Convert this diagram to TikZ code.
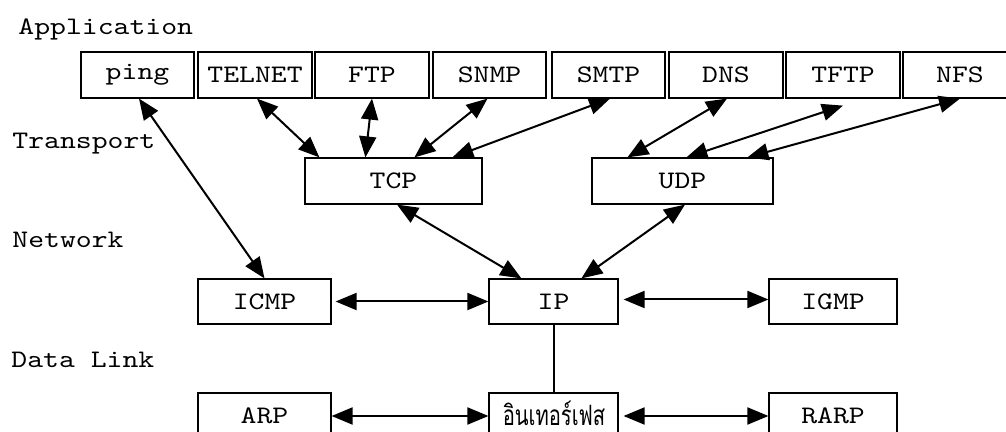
\documentclass[tikz,border=0pt]{standalone}
\usepackage{fontspec}
\usetikzlibrary{arrows.meta,calc}
\newfontfamily\typewriter{lmmono10-regular.otf}[FakeStretch=1.2]
\newfontfamily\thaifont[Script=Thai,FakeStretch=0.72]{Loma}
\tikzset{
  proto/.style={draw, line width=0.6pt, inner sep=0pt, minimum height=23pt,
    font=\typewriter\fontsize{12.6}{14}\selectfont},
  layer/.style={anchor=base west, inner sep=0pt,
    font=\typewriter\fontsize{12.6}{14}\selectfont},
  link/.style={line width=1pt, {Triangle[length=10.5pt,width=8.5pt]}-{Triangle[length=10.5pt,width=8.5pt]}},
  plain/.style={line width=1pt}
}
\begin{document}
\begin{tikzpicture}[x=0.5pt,y=-0.5pt]
\useasboundingbox (0,0) rectangle (1006,432);
\clip (0,0) rectangle (1006,432);

% layer names
\node[layer] (lapp) at (18,35) {Application};
\node[layer] (ltra) at (12,149) {Transport};
\node[layer] (lnet) at (12,248) {Network};
\node[layer] (llnk) at (11,368) {Data Link};

% application protocols
\node[proto, minimum width=56.5pt] (ping)   at (137.5,75) {ping};
\node[proto, minimum width=57pt]   (telnet) at (255,75)   {TELNET};
\node[proto, minimum width=57pt]   (ftp)    at (372,75)   {FTP};
\node[proto, minimum width=56.5pt] (snmp)   at (489.5,75) {SNMP};
\node[proto, minimum width=56.5pt] (smtp)   at (608.5,75) {SMTP};
\node[proto, minimum width=57pt]   (dns)    at (726,75)   {DNS};
\node[proto, minimum width=57pt]   (tftp)   at (843,75)   {TFTP};
\node[proto, minimum width=57pt]   (nfs)    at (960,75)   {NFS};

% transport
\node[proto, minimum width=88.5pt] (tcp) at (393.5,181) {TCP};
\node[proto, minimum width=90.5pt] (udp) at (682.5,181) {UDP};

% network
\node[proto, minimum width=66.5pt, minimum height=22.5pt] (icmp) at (264.5,301.5) {ICMP};
\node[proto, minimum width=64.5pt, minimum height=22.5pt] (ip)   at (553.5,301.5) {IP};
\node[proto, minimum width=64pt,   minimum height=22.5pt] (igmp) at (833,301.5)   {IGMP};

% data link
\node[proto, minimum width=66.5pt] (arp)  at (264.5,416) {ARP};
\node[proto, minimum width=64.5pt] (iface) at (553.5,416) {};
\node[font=\thaifont\fontsize{14}{16}\selectfont, inner sep=0pt, text depth=0pt, anchor=base]
  (ifacetxt) at (554,425) {อินเทอร์เฟส};
\node[proto, minimum width=64pt]   (rarp) at (833,416)   {RARP};

% application <-> transport
\draw[link] ([xshift=0.75pt]ping.south) -- (icmp.north);
\draw[link] ([xshift=1pt]telnet.south) -- ([xshift=7.5pt]tcp.north west);
\draw[link] (ftp.south) -- ([xshift=30.5pt]tcp.north west);
\draw[link] ([xshift=-1pt]snmp.south) -- ([xshift=55pt]tcp.north west);
\draw[link] ([xshift=0.75pt]smtp.south) -- ([xshift=74pt]tcp.north west);
\draw[link] ([xshift=0.5pt]dns.south) -- ([xshift=18pt]udp.north west);
\draw[link] ([yshift=-3.5pt]tftp.south) -- ([xshift=47.5pt]udp.north west);
\draw[link] (nfs.south) -- ([xshift=78pt]udp.north west);

% transport <-> network
\draw[link] ([xshift=1.75pt]tcp.south) -- ([xshift=16.5pt]ip.north west);
\draw[link] ([xshift=1.25pt]udp.south) -- ([xshift=46.5pt]ip.north west);

% network layer
\draw[link, shorten <=2pt] (icmp.east) -- (ip.west);
\draw[link, shorten <=2.5pt] ([yshift=1pt]ip.east) -- ([yshift=1pt]igmp.west);

% data link
\draw[plain] (ip.south) -- (iface.north);
\draw[link] (arp.east) -- (iface.west);
\draw[link, shorten <=2.5pt] (iface.east) -- (rarp.west);
\end{tikzpicture}
\end{document}
